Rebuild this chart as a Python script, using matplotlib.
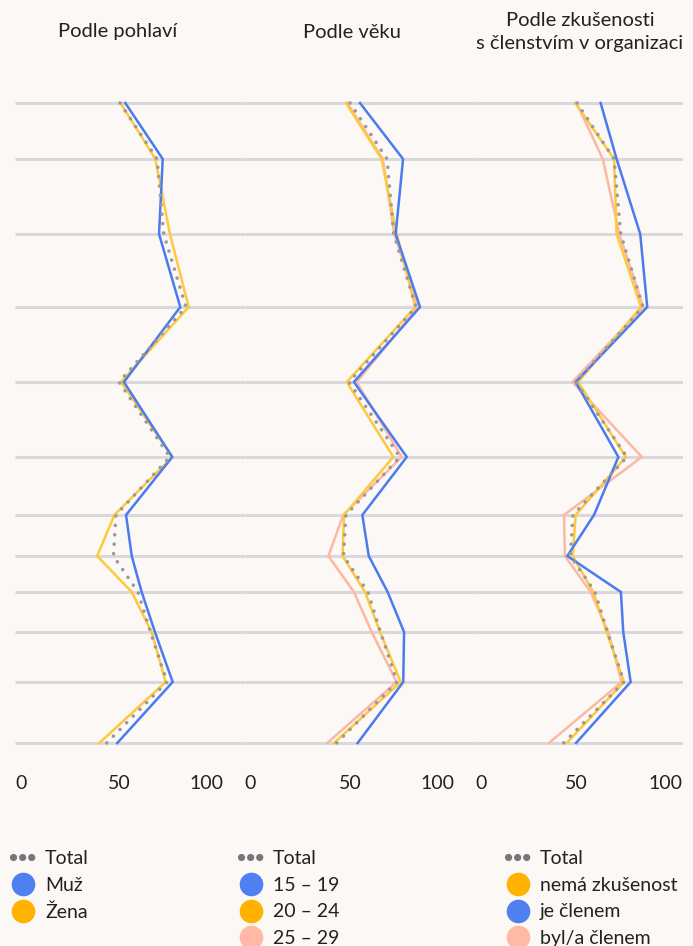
import matplotlib
matplotlib.use("Agg")
import matplotlib.pyplot as plt
import matplotlib.transforms as mtransforms
from matplotlib.lines import Line2D

plt.rcParams['font.family'] = ['Lato', 'DejaVu Sans']

# vertical positions of the 12 rows (uneven spacing, top to bottom)
row_y = [0, 56, 131, 204, 279, 354, 412, 453, 489, 529, 579, 640]

total = [51.3, 70.3, 73.7, 85.1, 50.8, 76.9, 49.2, 47.9, 60.5, 66.9, 75.4, 44.4]

# Podle pohlaví
muz = [54.0, 73.2, 71.3, 82.2, 53.3, 78.1, 54.4, 57.3, 62.4, 69.2, 78.3, 49.9]
zena = [51.6, 69.4, 76.9, 86.5, 51.8, 78.1, 48.4, 39.6, 57.3, 67.5, 74.7, 40.7]

# Podle věku
age_15_19 = [56.4, 78.5, 74.7, 87.2, 53.3, 80.4, 57.6, 60.9, 70.6, 79.0, 78.6, 55.2]
age_20_24 = [49.2, 67.5, 75.2, 84.8, 49.6, 73.5, 48.2, 47.5, 59.0, 66.7, 77.3, 43.1]
age_25_29 = [49.9, 68.1, 74.0, 86.3, 54.7, 77.8, 47.8, 40.2, 53.3, 62.4, 75.2, 39.6]

# Podle zkušenosti s členstvím
nema = [50.4, 70.3, 71.6, 84.1, 51.9, 76.3, 50.6, 49.1, 59.6, 66.5, 75.4, 46.0]
je_clenem = [63.4, 71.6, 83.7, 87.3, 50.6, 72.5, 60.0, 46.3, 73.8, 75.0, 78.8, 50.8]
byl_clenem = [51.1, 64.5, 73.0, 85.3, 48.9, 84.5, 44.6, 45.1, 58.3, 67.3, 74.2, 36.9]

titles = ["Podle pohlaví", "Podle věku", "Podle zkušenosti\ns členstvím v organizaci"]
x_ticks = [0, 50, 100]

BLUE = '#4a7bef'
YELLOW = '#ffc93c'
PINK = '#fdb8a2'
BLUE_L = '#4f80f2'
YELLOW_L = '#ffb300'
PINK_L = '#ffb9a4'
GREY = '#9a9a9c'
BG = '#fbf8f5'
GRID = '#d8d8dd'
TXT = '#222222'

W, H = 693, 946
fig = plt.figure(figsize=(W / 100, H / 100), dpi=100, facecolor=BG)

scale = 1.95  # px per unit
# (left px, right px, px of value 0)
panels = [(15, 245, 20), (245, 475, 250), (472, 683, 477)]
# small horizontal nudges (px) of the tick labels
label_nudge = [[1, 1.5, -9], [0, 3, -8], [4.5, 2, -7]]

series = [
    [(zena, YELLOW), (muz, BLUE)],
    [(age_25_29, PINK), (age_20_24, YELLOW), (age_15_19, BLUE)],
    [(byl_clenem, PINK), (nema, YELLOW), (je_clenem, BLUE)],
]

top_px, bot_px = 95, 751
for i, (l, r, p0) in enumerate(panels):
    ax = fig.add_axes([l / W, 1 - bot_px / H, (r - l) / W, (bot_px - top_px) / H])
    ax.patch.set_alpha(0)
    xmin = (l - p0) / scale
    xmax = (r - p0) / scale
    ax.set_xlim(xmin, xmax)
    ax.set_ylim(648, -8)
    ax.hlines(row_y, xmin, xmax, color=GRID, lw=2.2, zorder=1)
    for vals, c in series[i]:
        ax.plot(vals, row_y, color=c, lw=1.8, zorder=3, solid_joinstyle='miter')
    ax.plot(total, row_y, color=GREY, lw=2.6, linestyle=(0, (0.01, 2.6)),
            dash_capstyle='round', zorder=4)
    for s in ax.spines.values():
        s.set_visible(False)
    ax.set_yticks([])
    ax.set_xticks(x_ticks)
    ax.set_xticklabels([str(t) for t in x_ticks], fontsize=14, color=TXT)
    ax.tick_params(axis='x', length=0, pad=17)
    for lab, dx in zip(ax.get_xticklabels(), label_nudge[i]):
        lab.set_transform(lab.get_transform() +
                          mtransforms.ScaledTranslation(dx / 100, 0, fig.dpi_scale_trans))

# titles
fig.text(118 / W, 1 - 32 / H, titles[0], ha='center', va='center', fontsize=14.5, color=TXT)
fig.text(352 / W, 1 - 32 / H, titles[1], ha='center', va='center', fontsize=14.5, color=TXT)
fig.text(580 / W, 1 - 32 / H, titles[2], ha='center', va='center', fontsize=14.5,
         color=TXT, linespacing=1.45)


def total_handle():
    return Line2D([], [], color='#76777d', lw=5.2, linestyle=(0, (0.01, 1.25)),
                  dash_capstyle='round')


def dot_handle(c):
    return Line2D([], [], color=c, linestyle='none', marker='o', markersize=16)


legends = [
    ([total_handle(), dot_handle(BLUE_L), dot_handle(YELLOW_L)],
     ["Total", "Muž", "Žena"], 13),
    ([total_handle(), dot_handle(BLUE_L), dot_handle(YELLOW_L), dot_handle(PINK_L)],
     ["Total", "15 – 19", "20 – 24", "25 – 29"], 241),
    ([total_handle(), dot_handle(YELLOW_L), dot_handle(BLUE_L), dot_handle(PINK_L)],
     ["Total", "nemá zkušenost", "je členem", "byl/a členem"], 508),
]
for handles, labels, lx in legends:
    fig.legend(handles, labels, loc='upper left', bbox_to_anchor=(lx / W, 1 - 850 / H),
               frameon=False, fontsize=14, handlelength=0.98, handletextpad=0.67,
               labelspacing=0.5, borderpad=0, borderaxespad=0, labelcolor=TXT)

fig.savefig("out.png", dpi=100, facecolor=BG)
